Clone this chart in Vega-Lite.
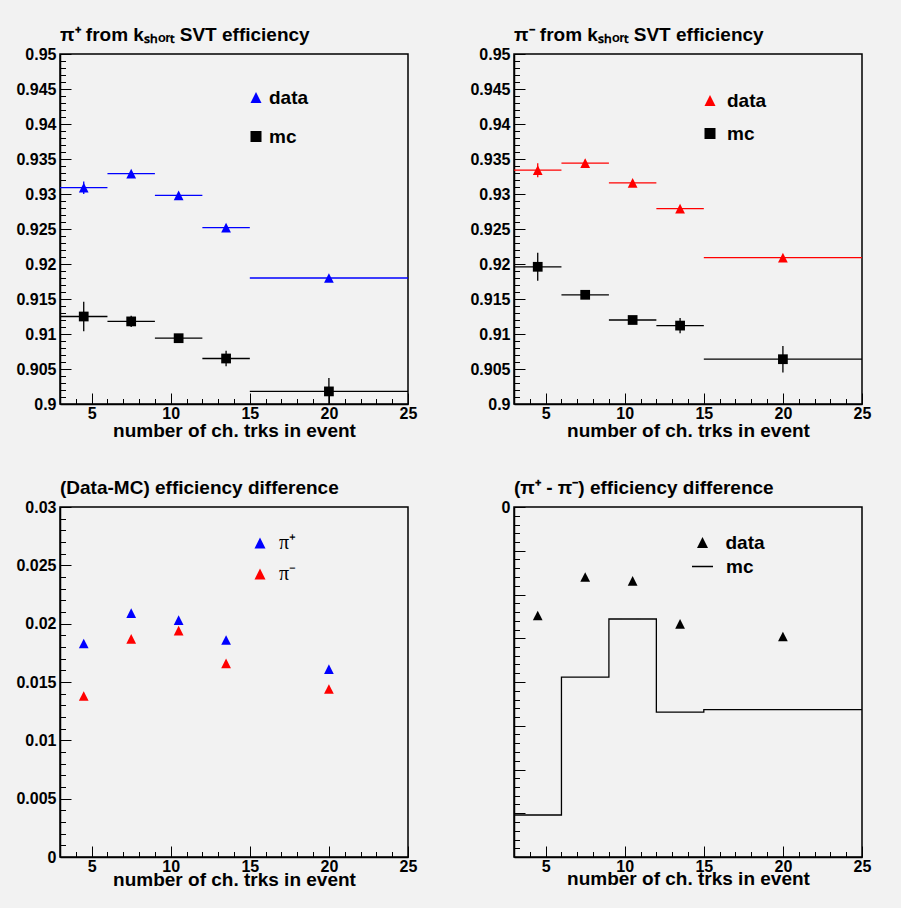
{
  "$schema": "https://vega.github.io/schema/vega-lite/v6.json",
  "background": "#f2f2f2",
  "padding": {"left": 15, "top": 25, "right": 40, "bottom": 40},
  "columns": 2,
  "spacing": {"row": 103, "column": 106},
  "bounds": "flush",
  "resolve": {
    "scale": {"x": "independent", "y": "independent", "color": "independent", "shape": "independent", "stroke": "independent", "strokeDash": "independent"},
    "legend": {"color": "independent", "shape": "independent", "strokeDash": "independent"}
  },
  "config": {
    "font": "Liberation Sans",
    "view": {"stroke": "black", "strokeWidth": 1.5, "fill": "#f2f2f2"},
    "axis": {
      "grid": false,
      "domainColor": "black",
      "domainWidth": 1.5,
      "tickColor": "black",
      "tickWidth": 1,
      "labelFont": "Liberation Sans",
      "labelFontWeight": "bold",
      "labelFontSize": 16,
      "labelColor": "black",
      "titleFont": "Liberation Sans",
      "titleFontWeight": "bold",
      "titleFontSize": 19,
      "titleColor": "black"
    },
    "title": {
      "font": "Liberation Sans",
      "fontWeight": "bold",
      "fontSize": 19,
      "color": "black",
      "anchor": "start",
      "frame": "group",
      "offset": 1,
      "baseline": "alphabetic"
    },
    "legend": {
      "padding": 0,
      "labelFont": "Liberation Sans",
      "labelFontWeight": "bold",
      "labelFontSize": 19,
      "labelColor": "black",
      "symbolSize": 121,
      "symbolStrokeWidth": 0
    }
  },
  "concat": [
    {
      "width": 348,
      "height": 350,
      "title": "π⁺ from kₛₕₒᵣₜ SVT efficiency",
      "data": {"values": [
        {"series": "data", "x": 4.5, "xlo": 3, "xhi": 6, "y": 0.9309, "ylo": 0.9300, "yhi": 0.9318},
        {"series": "data", "x": 7.5, "xlo": 6, "xhi": 9, "y": 0.9329, "ylo": 0.9325, "yhi": 0.9333},
        {"series": "data", "x": 10.5, "xlo": 9, "xhi": 12, "y": 0.9298, "ylo": 0.9294, "yhi": 0.9302},
        {"series": "data", "x": 13.5, "xlo": 12, "xhi": 15, "y": 0.9252, "ylo": 0.9248, "yhi": 0.9256},
        {"series": "data", "x": 20, "xlo": 15, "xhi": 25, "y": 0.9180, "ylo": 0.9177, "yhi": 0.9183},
        {"series": "mc", "x": 4.5, "xlo": 3, "xhi": 6, "y": 0.9125, "ylo": 0.9104, "yhi": 0.9146},
        {"series": "mc", "x": 7.5, "xlo": 6, "xhi": 9, "y": 0.9118, "ylo": 0.9110, "yhi": 0.9126},
        {"series": "mc", "x": 10.5, "xlo": 9, "xhi": 12, "y": 0.9094, "ylo": 0.9090, "yhi": 0.9098},
        {"series": "mc", "x": 13.5, "xlo": 12, "xhi": 15, "y": 0.9065, "ylo": 0.9054, "yhi": 0.9076},
        {"series": "mc", "x": 20, "xlo": 15, "xhi": 25, "y": 0.9018, "ylo": 0.8999, "yhi": 0.9037}
      ]},
      "resolve": {"axis": {"x": "independent", "y": "independent"}},
      "layer": [
        {
          "mark": {"type": "rule", "strokeWidth": 1.3, "clip": true},
          "encoding": {
            "x": {"field": "xlo", "type": "quantitative", "scale": {"domain": [3, 25], "nice": false, "zero": false},
              "axis": {"orient": "bottom", "values": [5, 10, 15, 20, 25], "format": "~g", "tickSize": -11, "labelPadding": 12, "labelFlush": false, "title": "number of ch. trks in event", "titlePadding": 0}},
            "x2": {"field": "xhi"},
            "y": {"field": "y", "type": "quantitative", "scale": {"domain": [0.9, 0.95], "nice": false, "zero": false},
              "axis": {"orient": "left", "values": [0.9, 0.905, 0.91, 0.915, 0.92, 0.925, 0.93, 0.935, 0.94, 0.945, 0.95], "format": "~g", "tickSize": -11, "labelPadding": 15, "labelFlush": false, "title": null}},
            "stroke": {"field": "series", "type": "nominal", "scale": {"domain": ["mc", "data"], "range": ["#000000", "#0000ff"]}, "legend": null}
          }
        },
        {
          "mark": {"type": "rule", "strokeWidth": 1.3, "clip": true},
          "encoding": {
            "x": {"field": "x", "type": "quantitative", "axis": null},
            "y": {"field": "ylo", "type": "quantitative", "axis": null},
            "y2": {"field": "yhi"},
            "stroke": {"field": "series", "type": "nominal", "scale": {"domain": ["mc", "data"], "range": ["#000000", "#0000ff"]}, "legend": null}
          }
        },
        {
          "mark": {"type": "point", "filled": true, "opacity": 1, "size": 95},
          "encoding": {
            "x": {"field": "x", "type": "quantitative",
              "axis": {"orient": "bottom", "values": [4, 6, 7, 8, 9, 11, 12, 13, 14, 16, 17, 18, 19, 21, 22, 23, 24], "tickSize": -5.5, "labels": false, "domain": false, "title": null}},
            "y": {"field": "y", "type": "quantitative",
              "axis": {"orient": "left", "values": [0.901, 0.902, 0.903, 0.904, 0.906, 0.907, 0.908, 0.909, 0.911, 0.912, 0.913, 0.914, 0.916, 0.917, 0.918, 0.919, 0.921, 0.922, 0.923, 0.924, 0.926, 0.927, 0.928, 0.929, 0.931, 0.932, 0.933, 0.934, 0.936, 0.937, 0.938, 0.939, 0.941, 0.942, 0.943, 0.944, 0.946, 0.947, 0.948, 0.949], "tickSize": -5.5, "labels": false, "domain": false, "title": null}},
            "color": {"field": "series", "type": "nominal", "scale": {"domain": ["data", "mc"], "range": ["#0000ff", "#000000"]},
              "legend": {"title": null, "orient": "none", "legendX": 186.5, "legendY": 34, "rowPadding": 19, "labelOffset": 3.5}},
            "shape": {"field": "series", "type": "nominal", "scale": {"domain": ["data", "mc"], "range": ["M-1,1L0,-1L1,1Z", "square"]},
              "legend": {"title": null, "orient": "none", "legendX": 186.5, "legendY": 34, "rowPadding": 19, "labelOffset": 3.5}}
          }
        }
      ]
    },
    {
      "width": 348,
      "height": 350,
      "title": "π⁻ from kₛₕₒᵣₜ SVT efficiency",
      "data": {"values": [
        {"series": "data", "x": 4.5, "xlo": 3, "xhi": 6, "y": 0.9334, "ylo": 0.9324, "yhi": 0.9344},
        {"series": "data", "x": 7.5, "xlo": 6, "xhi": 9, "y": 0.9344, "ylo": 0.9339, "yhi": 0.9349},
        {"series": "data", "x": 10.5, "xlo": 9, "xhi": 12, "y": 0.9316, "ylo": 0.9312, "yhi": 0.9320},
        {"series": "data", "x": 13.5, "xlo": 12, "xhi": 15, "y": 0.9279, "ylo": 0.9275, "yhi": 0.9283},
        {"series": "data", "x": 20, "xlo": 15, "xhi": 25, "y": 0.9209, "ylo": 0.9206, "yhi": 0.9212},
        {"series": "mc", "x": 4.5, "xlo": 3, "xhi": 6, "y": 0.9196, "ylo": 0.9176, "yhi": 0.9216},
        {"series": "mc", "x": 7.5, "xlo": 6, "xhi": 9, "y": 0.9156, "ylo": 0.9152, "yhi": 0.9160},
        {"series": "mc", "x": 10.5, "xlo": 9, "xhi": 12, "y": 0.9120, "ylo": 0.9116, "yhi": 0.9124},
        {"series": "mc", "x": 13.5, "xlo": 12, "xhi": 15, "y": 0.9112, "ylo": 0.9101, "yhi": 0.9123},
        {"series": "mc", "x": 20, "xlo": 15, "xhi": 25, "y": 0.9064, "ylo": 0.9045, "yhi": 0.9083}
      ]},
      "resolve": {"axis": {"x": "independent", "y": "independent"}},
      "layer": [
        {
          "mark": {"type": "rule", "strokeWidth": 1.3, "clip": true},
          "encoding": {
            "x": {"field": "xlo", "type": "quantitative", "scale": {"domain": [3, 25], "nice": false, "zero": false},
              "axis": {"orient": "bottom", "values": [5, 10, 15, 20, 25], "format": "~g", "tickSize": -11, "labelPadding": 12, "labelFlush": false, "title": "number of ch. trks in event", "titlePadding": 0}},
            "x2": {"field": "xhi"},
            "y": {"field": "y", "type": "quantitative", "scale": {"domain": [0.9, 0.95], "nice": false, "zero": false},
              "axis": {"orient": "left", "values": [0.9, 0.905, 0.91, 0.915, 0.92, 0.925, 0.93, 0.935, 0.94, 0.945, 0.95], "format": "~g", "tickSize": -11, "labelPadding": 15, "labelFlush": false, "title": null}},
            "stroke": {"field": "series", "type": "nominal", "scale": {"domain": ["mc", "data"], "range": ["#000000", "#ff0000"]}, "legend": null}
          }
        },
        {
          "mark": {"type": "rule", "strokeWidth": 1.3, "clip": true},
          "encoding": {
            "x": {"field": "x", "type": "quantitative", "axis": null},
            "y": {"field": "ylo", "type": "quantitative", "axis": null},
            "y2": {"field": "yhi"},
            "stroke": {"field": "series", "type": "nominal", "scale": {"domain": ["mc", "data"], "range": ["#000000", "#ff0000"]}, "legend": null}
          }
        },
        {
          "mark": {"type": "point", "filled": true, "opacity": 1, "size": 95},
          "encoding": {
            "x": {"field": "x", "type": "quantitative",
              "axis": {"orient": "bottom", "values": [4, 6, 7, 8, 9, 11, 12, 13, 14, 16, 17, 18, 19, 21, 22, 23, 24], "tickSize": -5.5, "labels": false, "domain": false, "title": null}},
            "y": {"field": "y", "type": "quantitative",
              "axis": {"orient": "left", "values": [0.901, 0.902, 0.903, 0.904, 0.906, 0.907, 0.908, 0.909, 0.911, 0.912, 0.913, 0.914, 0.916, 0.917, 0.918, 0.919, 0.921, 0.922, 0.923, 0.924, 0.926, 0.927, 0.928, 0.929, 0.931, 0.932, 0.933, 0.934, 0.936, 0.937, 0.938, 0.939, 0.941, 0.942, 0.943, 0.944, 0.946, 0.947, 0.948, 0.949], "tickSize": -5.5, "labels": false, "domain": false, "title": null}},
            "color": {"field": "series", "type": "nominal", "scale": {"domain": ["data", "mc"], "range": ["#ff0000", "#000000"]},
              "legend": {"title": null, "orient": "none", "legendX": 186.5, "legendY": 37, "rowPadding": 13, "labelOffset": 7.5}},
            "shape": {"field": "series", "type": "nominal", "scale": {"domain": ["data", "mc"], "range": ["M-1,1L0,-1L1,1Z", "square"]},
              "legend": {"title": null, "orient": "none", "legendX": 186.5, "legendY": 37, "rowPadding": 13, "labelOffset": 7.5}}
          }
        }
      ]
    },
    {
      "width": 348,
      "height": 350,
      "title": "(Data-MC) efficiency difference",
      "data": {"values": [
        {"series": "π⁺", "x": 4.5, "y": 0.0183},
        {"series": "π⁺", "x": 7.5, "y": 0.0209},
        {"series": "π⁺", "x": 10.5, "y": 0.0203},
        {"series": "π⁺", "x": 13.5, "y": 0.0186},
        {"series": "π⁺", "x": 20, "y": 0.0161},
        {"series": "π⁻", "x": 4.5, "y": 0.0138},
        {"series": "π⁻", "x": 7.5, "y": 0.0187},
        {"series": "π⁻", "x": 10.5, "y": 0.0194},
        {"series": "π⁻", "x": 13.5, "y": 0.0166},
        {"series": "π⁻", "x": 20, "y": 0.0144}
      ]},
      "resolve": {"axis": {"x": "independent", "y": "independent"}},
      "layer": [
        {
          "mark": {"type": "point", "filled": true, "opacity": 1, "size": 95},
          "encoding": {
            "x": {"field": "x", "type": "quantitative", "scale": {"domain": [3, 25], "nice": false, "zero": false},
              "axis": {"orient": "bottom", "values": [5, 10, 15, 20, 25], "format": "~g", "tickSize": -11, "labelPadding": 12, "labelFlush": false, "title": "number of ch. trks in event", "titlePadding": -4}},
            "y": {"field": "y", "type": "quantitative", "scale": {"domain": [0, 0.03], "nice": false, "zero": false},
              "axis": {"orient": "left", "values": [0, 0.005, 0.01, 0.015, 0.02, 0.025, 0.03], "format": "~g", "tickSize": -11, "labelPadding": 15, "labelFlush": false, "title": null}},
            "color": {"field": "series", "type": "nominal", "scale": {"domain": ["π⁺", "π⁻"], "range": ["#0000ff", "#ff0000"]},
              "legend": {"title": null, "orient": "none", "legendX": 190, "legendY": 26, "rowPadding": 11, "labelOffset": 9, "labelFont": "Liberation Serif", "labelFontWeight": "normal", "labelFontSize": 20}},
            "shape": {"field": "series", "type": "nominal", "scale": {"domain": ["π⁺", "π⁻"], "range": ["M-1,1L0,-1L1,1Z", "M-1,1L0,-1L1,1Z"]},
              "legend": {"title": null, "orient": "none", "legendX": 190, "legendY": 26, "rowPadding": 11, "labelOffset": 9, "labelFont": "Liberation Serif", "labelFontWeight": "normal", "labelFontSize": 20}}
          }
        },
        {
          "mark": {"type": "point", "filled": true, "opacity": 0, "size": 1},
          "encoding": {
            "x": {"field": "x", "type": "quantitative",
              "axis": {"orient": "bottom", "values": [4, 6, 7, 8, 9, 11, 12, 13, 14, 16, 17, 18, 19, 21, 22, 23, 24], "tickSize": -5.5, "labels": false, "domain": false, "title": null}},
            "y": {"field": "y", "type": "quantitative",
              "axis": {"orient": "left", "values": [0.001, 0.002, 0.003, 0.004, 0.006, 0.007, 0.008, 0.009, 0.011, 0.012, 0.013, 0.014, 0.016, 0.017, 0.018, 0.019, 0.021, 0.022, 0.023, 0.024, 0.026, 0.027, 0.028, 0.029], "tickSize": -5.5, "labels": false, "domain": false, "title": null}}
          }
        }
      ]
    },
    {
      "width": 348,
      "height": 350,
      "title": "(π⁺ - π⁻) efficiency difference",
      "resolve": {"axis": {"x": "independent", "y": "independent"}},
      "layer": [
        {
          "data": {"values": [
            {"series": "mc", "x": 3, "y": -0.00704},
            {"series": "mc", "x": 6, "y": -0.00389},
            {"series": "mc", "x": 9, "y": -0.00256},
            {"series": "mc", "x": 12, "y": -0.00469},
            {"series": "mc", "x": 15, "y": -0.00463},
            {"series": "mc", "x": 25, "y": -0.00463}
          ]},
          "mark": {"type": "line", "interpolate": "step-after", "color": "black", "strokeWidth": 1.3},
          "encoding": {
            "x": {"field": "x", "type": "quantitative", "scale": {"domain": [3, 25], "nice": false, "zero": false},
              "axis": {"orient": "bottom", "values": [5, 10, 15, 20, 25], "format": "~g", "tickSize": -11, "labelPadding": 12, "labelFlush": false, "title": "number of ch. trks in event", "titlePadding": -5}},
            "y": {"field": "y", "type": "quantitative", "scale": {"domain": [-0.008, 0], "nice": false, "zero": false},
              "axis": {"orient": "left", "values": [-0.008, -0.007, -0.006, -0.005, -0.004, -0.003, -0.002, -0.001, 0], "labelExpr": "datum.value == 0 ? '0' : ''", "tickSize": -11, "labelPadding": 15, "labelFlush": false, "title": null}},
            "strokeDash": {"field": "series", "type": "nominal", "scale": {"domain": ["mc"], "range": [[1, 0]]},
              "legend": {"title": null, "orient": "none", "legendX": 177, "legendY": 48, "labelOffset": 12, "symbolSize": 441, "symbolStrokeColor": "black", "symbolStrokeWidth": 1.5, "symbolType": "stroke"}}
          }
        },
        {
          "data": {"values": [
            {"series": "data", "x": 4.5, "y": -0.00248},
            {"series": "data", "x": 7.5, "y": -0.0016},
            {"series": "data", "x": 10.5, "y": -0.00169},
            {"series": "data", "x": 13.5, "y": -0.00267},
            {"series": "data", "x": 20, "y": -0.00296}
          ]},
          "mark": {"type": "point", "filled": true, "opacity": 1, "size": 95, "color": "black"},
          "encoding": {
            "x": {"field": "x", "type": "quantitative",
              "axis": {"orient": "bottom", "values": [4, 6, 7, 8, 9, 11, 12, 13, 14, 16, 17, 18, 19, 21, 22, 23, 24], "tickSize": -5.5, "labels": false, "domain": false, "title": null}},
            "y": {"field": "y", "type": "quantitative",
              "axis": {"orient": "left", "values": [-0.0078, -0.0076, -0.0074, -0.0072, -0.0068, -0.0066, -0.0064, -0.0062, -0.0058, -0.0056, -0.0054, -0.0052, -0.0048, -0.0046, -0.0044, -0.0042, -0.0038, -0.0036, -0.0034, -0.0032, -0.0028, -0.0026, -0.0024, -0.0022, -0.0018, -0.0016, -0.0014, -0.0012, -0.0008, -0.0006, -0.0004, -0.0002], "tickSize": -5.5, "labels": false, "domain": false, "title": null}},
            "shape": {"field": "series", "type": "nominal", "scale": {"domain": ["data"], "range": ["M-1,1L0,-1L1,1Z"]},
              "legend": {"title": null, "orient": "none", "legendX": 179, "legendY": 26, "labelOffset": 13.5, "symbolFillColor": "black"}}
          }
        }
      ]
    }
  ]
}
